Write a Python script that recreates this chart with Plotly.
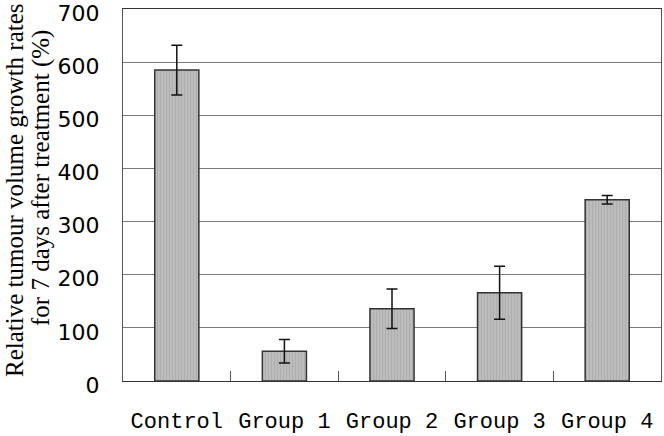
import plotly.graph_objects as go

categories = ["Control", "Group 1", "Group 2", "Group 3", "Group 4"]
values = [585, 56, 136, 166, 341]
errors = [47, 22, 37, 50, 8]
y_ticks = [0, 100, 200, 300, 400, 500, 600, 700]
title_lines = ["Relative tumour volume growth rates", "for 7 days after treatment (%)"]

fig = go.Figure()
fig.add_trace(go.Bar(
    x=categories, y=values,
    width=0.41,
    marker=dict(color="#bcbcbc", line=dict(color="#333333", width=1.5),
                pattern=dict(shape="|", fgcolor="#a0a0a0", size=3, solidity=0.35)),
    error_y=dict(type="data", array=errors, visible=True, color="#111111",
                 thickness=1.5, width=5.5),
))

fig.update_layout(
    width=664, height=436,
    margin=dict(l=123, r=3, t=9, b=55),
    paper_bgcolor="white", plot_bgcolor="white",
    showlegend=False,
    bargap=0.59,
)
fig.update_yaxes(
    range=[0, 700], tickvals=y_ticks, automargin=False,
    showgrid=True, gridcolor="#7a7a7a", gridwidth=1,
    showline=True, linecolor="#555555", linewidth=1, mirror=True,
    ticks="", ticklabelstandoff=18, ticklabeloverflow="allow", ticklabelshift=4,
    tickfont=dict(family="DejaVu Sans", size=22, color="black"),
    zeroline=False,
)
fig.update_xaxes(
    automargin=False,
    showline=True, linecolor="#333333", linewidth=1, mirror=True,
    ticks="inside", ticklen=10, tickcolor="#555555", tickson="boundaries",
    tickfont=dict(family="Liberation Mono, DejaVu Sans Mono", size=22, color="black"),
    ticklabelstandoff=20, ticklabeloverflow="allow",
)

title_font = dict(family="Liberation Serif, Times New Roman", size=25, color="black")
fig.add_annotation(text=title_lines[0], xref="paper", yref="paper", x=0, y=0.5,
                   xanchor="center", yanchor="middle", textangle=-90, showarrow=False,
                   xshift=-109, yshift=5, font=title_font)
fig.add_annotation(text=title_lines[1], xref="paper", yref="paper", x=0, y=0.5,
                   xanchor="center", yanchor="middle", textangle=-90, showarrow=False,
                   xshift=-82, yshift=17, font=title_font)

fig.write_html("out.html", config={"displayModeBar": False},
               post_script="document.body.style.margin='0';document.body.style.padding='0';")
